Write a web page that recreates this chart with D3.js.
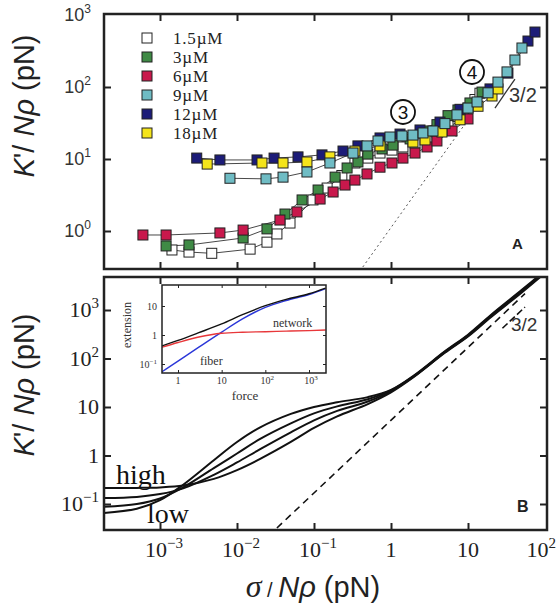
<!DOCTYPE html>
<html><head><meta charset="utf-8">
<script src="https://cdn.jsdelivr.net/npm/d3@7"></script>
<style>body{margin:0;background:#fff}svg{display:block}</style>
</head><body>
<svg id="c" width="558" height="606"></svg>
<script>
// ---------------- DATA ----------------
const legendLabels = ["1.5µM","3µM","6µM","9µM","12µM","18µM"];
// panel A series: [stress, K'] pairs
const s1_5 = [[0.00143,0.545],[0.00238,0.51],[0.0047,0.49],[0.0148,0.56],[0.0245,0.70],[0.033,0.91],[0.0488,1.29],[0.097,2.70],[0.148,3.95],[0.23,5.9],[0.34,8.8],[0.50,10.3],[0.72,12.1],[1.03,13.3],[1.43,14.7],[2.05,16.7],[2.94,19.6],[3.95,23.7],[5.5,30],[7.4,39],[10,51],[12.3,67],[14.3,82]];
const s3 = [[0.0012,0.62],[0.00238,0.64],[0.012,0.80],[0.0245,1.07],[0.042,1.72],[0.070,2.70],[0.113,3.71],[0.188,5.6],[0.269,7.5],[0.372,9.1],[0.50,11.7],[0.764,13.8],[1.06,15.6],[1.77,19.0],[2.94,24.5],[3.95,30],[5.5,40],[7.4,48],[10.6,60],[15.2,85]];
const s6 = [[0.0006,0.88],[0.0012,0.88],[0.0060,0.94],[0.012,1.03],[0.0361,1.42],[0.060,1.84],[0.120,2.78],[0.177,3.48],[0.253,4.35],[0.34,5.1],[0.488,6.2],[0.72,7.7],[1.03,8.8],[1.43,10.3],[2.05,12.1],[2.94,14.7],[3.95,17.8],[6.2,24.5],[10.0,36]];
const s9 = [[0.0081,5.4],[0.0238,5.3],[0.0396,5.6],[0.081,6.6],[0.161,8.8],[0.321,12.1],[0.488,15.2],[0.678,17.8],[0.97,20.2],[1.39,20.9],[1.93,21.5],[2.61,23],[3.51,24.5],[5.02,31],[7.19,41],[10.0,51],[13.1,62],[18.2,83],[24.5,117],[32.1,162],[40.7,237],[50.2,348]];
const s12 = [[0.0030,10.3],[0.0060,9.7],[0.0182,9.7],[0.0303,10.3],[0.062,10.7],[0.127,11.4],[0.238,12.9],[0.372,15.2],[0.72,19.6],[1.31,22.2],[2.38,25.3],[4.33,32.6],[7.87,49],[19.3,94],[33,156],[60.1,435],[74.1,580]];
const s18 = [[0.0041,8.5],[0.0211,8.8],[0.0396,8.8],[0.081,9.1],[0.161,10.7],[0.34,12.9],[0.72,15.2],[1.93,17.2],[2.77,18.4],[4.59,23.7],[7.87,35],[13.5,54],[20.5,75],[24.5,94]];
const dottedA = [[0.43,0.316],[10.0,35]];
const slopeA = [[22.4,51],[40.7,129]];

// panel B model curves
const bx = [0.00018,0.0005,0.001,0.002,0.005,0.01,0.02,0.05,0.1,0.2,0.5,1,2,5,10,20,50,100];
const curveLow  = [0.065,0.08,0.12,0.25,0.8,1.9,3.8,7.2,10,12.5,16,22.5,45,140,310,800,2600,6500];
const curveMid1 = [0.087,0.10,0.13,0.22,0.55,1.1,2.2,4.6,7.4,10.3,14.5,22,44,137,300,770,2500,6200];
const curveMid2 = [0.133,0.14,0.16,0.21,0.40,0.72,1.35,3.0,5.3,8.3,13,21,43,134,292,745,2400,6000];
const curveHigh = [0.214,0.215,0.22,0.24,0.33,0.5,0.85,1.9,3.7,6.4,11.5,20,42,131,285,720,2300,5800];
const dashedB = [[0.033,0.032],[55,2180]];
const slopeB = [[28,420],[55,1150]];

// inset
const ix = [0.43,1,3,10,30,100,300,1000,2400];
const fiberExt   = [0.054,0.126,0.38,1.26,3.6,9,15.5,25,40];
const networkExt = [0.38,0.55,0.85,1.15,1.25,1.3,1.36,1.42,1.48];
const totalExt   = [0.42,0.65,1.2,2.4,5.0,10.3,16.9,26.4,41.5];

// ticks
const xTicks = [1e-3,1e-2,1e-1,1,10,100];
const xTickLabels = [["10","−3"],["10","−2"],["10","−1"],["1",""],["10",""],["10","2"]];
const yTicksA = [1,10,100,1000];
const yTickLabelsA = [["10","0"],["10","1"],["10","2"],["10","3"]];
const yTicksB = [0.1,1,10,100,1000];
const yTickLabelsB = [["10","−1"],["1",""],["10",""],["10","2"],["10","3"]];
const iXTicks = [1,10,100,1000];
const iXTickLabels = [["1",""],["10",""],["10","2"],["10","3"]];
const iYTicks = [0.1,1,10];
const iYTickLabels = [["10","−1"],["1",""],["10",""]];

// ---------------- STYLE / LAYOUT ----------------
const SANS = "'Liberation Sans', Arial, sans-serif";
const SERIF = "'Liberation Serif', 'Times New Roman', serif";
const colors = ["#ffffff","#3f8a45","#c8184c","#6fbcc4","#1c1c78","#f4e41a"];
const PA = {l:104, r:547, t:14, b:269};
const PB = {l:104, r:547, t:277, b:530};
const PI = {l:162, r:326, t:285, b:373};

function logScale(d0,d1,r0,r1,lo,hi){
  const s = d3.scaleLog().domain([d0,d1]).range([r0,r1]);
  return d3.scaleLog().domain([s.invert(lo), s.invert(hi)]).range([lo,hi]);
}
const xA = logScale(1e-3,100,160,545,PA.l,PA.r);
const yA = logScale(1,1000,231,15,PA.b,PA.t);
const xB = logScale(1e-3,100,160,545,PB.l,PB.r);
const yB = logScale(0.1,1000,504,310,PB.b,PB.t);
const xI = logScale(1,1000,178,309,PI.l,PI.r);
const yI = logScale(0.1,10,364,306,PI.b,PI.t);

const svg = d3.select("#c");
const defs = svg.append("defs");
[["clipA",PA],["clipB",PB],["clipI",PI]].forEach(([id,p])=>{
  defs.append("clipPath").attr("id",id).append("rect")
    .attr("x",p.l).attr("y",p.t).attr("width",p.r-p.l).attr("height",p.b-p.t);
});

function ticks(g, P, x, y, xv, yv, len, sw){
  const strip = s=>s.select(".domain").remove();
  g.append("g").attr("transform",`translate(0,${P.b})`)
    .call(d3.axisBottom(x).tickValues(xv).tickSize(-len).tickFormat("")).call(strip);
  g.append("g").attr("transform",`translate(0,${P.t})`)
    .call(d3.axisTop(x).tickValues(xv).tickSize(-len).tickFormat("")).call(strip);
  g.append("g").attr("transform",`translate(${P.l},0)`)
    .call(d3.axisLeft(y).tickValues(yv).tickSize(-len).tickFormat("")).call(strip);
  g.append("g").attr("transform",`translate(${P.r},0)`)
    .call(d3.axisRight(y).tickValues(yv).tickSize(-len).tickFormat("")).call(strip);
  g.selectAll(".tick line").attr("stroke","#222").attr("stroke-width",sw);
}
function supLabel(g, x, y, parts, font, size, supSize, rise, anchor, color){
  const t = g.append("text").attr("x",x).attr("y",y).attr("text-anchor",anchor)
    .attr("font-family",font).attr("font-size",size).attr("fill",color);
  t.append("tspan").text(parts[0]);
  if (parts[1]) t.append("tspan").attr("font-size",supSize).attr("dy",-rise).text(parts[1]);
}

// ---------------- PANEL A ----------------
const gA = svg.append("g");
ticks(gA, PA, xA, yA, xTicks.filter(v=>v<100), [1,10,100], 7, 2);
const dataA = gA.append("g").attr("clip-path","url(#clipA)");
const lineA = d3.line().x(d=>xA(d[0])).y(d=>yA(d[1]));
dataA.append("path").attr("d",lineA(dottedA)).attr("fill","none")
  .attr("stroke","#555").attr("stroke-width",1).attr("stroke-dasharray","2,3");
dataA.append("path").attr("d",lineA(slopeA)).attr("fill","none")
  .attr("stroke","#333").attr("stroke-width",1.3);
const seriesA = [s1_5,s3,s6,s12,s18,s9];
const colorIdx = [0,1,2,4,5,3];
seriesA.forEach((s,i)=>{
  dataA.append("path").attr("d",lineA(s)).attr("fill","none")
    .attr("stroke","#333").attr("stroke-width",0.9);
});
seriesA.forEach((s,i)=>{
  dataA.selectAll(null).data(s).enter().append("rect")
    .attr("x",d=>xA(d[0])-5).attr("y",d=>yA(d[1])-5)
    .attr("width",10).attr("height",10)
    .attr("fill",colors[colorIdx[i]]).attr("stroke","#222").attr("stroke-width",1);
});
gA.append("rect").attr("x",PA.l).attr("y",PA.t).attr("width",PA.r-PA.l).attr("height",PA.b-PA.t)
  .attr("fill","none").attr("stroke","#222").attr("stroke-width",2.5);
yTicksA.forEach((v,i)=>supLabel(gA, 91, yA(v)+6, yTickLabelsA[i], SANS, 18, 12, 8, "end", "#333"));
// legend
legendLabels.forEach((lab,i)=>{
  const cy = 38 + i*19;
  gA.append("rect").attr("x",142).attr("y",cy-5).attr("width",10).attr("height",10)
    .attr("fill",colors[i]).attr("stroke","#222").attr("stroke-width",1);
  gA.append("text").attr("x",173).attr("y",cy+6).attr("font-family",SERIF)
    .attr("font-size",17).attr("letter-spacing",0.8).attr("fill","#222").text(lab);
});
// annotations
[[403,112,"3"],[472,72,"4"]].forEach(([cx,cy,t])=>{
  gA.append("circle").attr("cx",cx).attr("cy",cy).attr("r",12)
    .attr("fill","#fff").attr("stroke","#111").attr("stroke-width",1.8);
  gA.append("text").attr("x",cx).attr("y",cy+7).attr("text-anchor","middle")
    .attr("font-family",SANS).attr("font-size",19).attr("fill","#111").text(t);
});
gA.append("text").attr("x",509).attr("y",102).attr("font-family",SANS).attr("font-size",20)
  .attr("fill","#333").text("3/2");
gA.append("text").attr("x",512).attr("y",249).attr("font-family",SANS).attr("font-size",15)
  .attr("font-weight","bold").attr("fill","#222").text("A");

// ---------------- PANEL B ----------------
const gB = svg.append("g");
ticks(gB, PB, xB, yB, xTicks.filter(v=>v<100), [0.1,1,10,100,1000], 7, 2);
const dataB = gB.append("g").attr("clip-path","url(#clipB)");
const lineB = d3.line().x(d=>xB(d[0])).y(d=>yB(d[1]));
dataB.append("path").attr("d",lineB(dashedB)).attr("fill","none")
  .attr("stroke","#111").attr("stroke-width",1.6).attr("stroke-dasharray","7,5");
dataB.append("path").attr("d",lineB(slopeB)).attr("fill","none")
  .attr("stroke","#111").attr("stroke-width",1.6).attr("stroke-dasharray","7,3");
const curveLine = d3.line().x(d=>xB(d[0])).y(d=>yB(d[1])).curve(d3.curveCatmullRom.alpha(0.5));
[curveLow,curveMid1,curveMid2,curveHigh].forEach(c=>{
  dataB.append("path").attr("d",curveLine(bx.map((x,i)=>[x,c[i]]))).attr("fill","none")
    .attr("stroke","#111").attr("stroke-width",2);
});
gB.append("rect").attr("x",PB.l).attr("y",PB.t).attr("width",PB.r-PB.l).attr("height",PB.b-PB.t)
  .attr("fill","none").attr("stroke","#222").attr("stroke-width",2.5);
yTicksB.forEach((v,i)=>supLabel(gB, 99, yB(v)+7, yTickLabelsB[i], SERIF, 22, 15, 9, "end", "#222"));
xTicks.forEach((v,i)=>{
  const p = xTickLabels[i];
  if (v === 100) supLabel(gB, 556, 557, p, SERIF, 22, 15, 9, "end", "#222");
  else supLabel(gB, xB(v)+(p[1]?4:0), 557, p, SERIF, 22, 15, 9, "middle", "#222");
});
gB.append("text").attr("x",116).attr("y",484).attr("font-family",SERIF).attr("font-size",28)
  .attr("fill","#111").text("high");
gB.append("text").attr("x",147).attr("y",523).attr("font-family",SERIF).attr("font-size",28)
  .attr("fill","#111").text("low");
gB.append("text").attr("x",511).attr("y",331).attr("font-family",SANS).attr("font-size",19)
  .attr("fill","#333").text("3/2");
gB.append("text").attr("x",517).attr("y",512).attr("font-family",SANS).attr("font-size",16)
  .attr("font-weight","bold").attr("fill","#222").text("B");

// ---------------- INSET ----------------
const gI = svg.append("g");
gI.append("rect").attr("x",PI.l).attr("y",PI.t).attr("width",PI.r-PI.l).attr("height",PI.b-PI.t)
  .attr("fill","#fff");
ticks(gI, PI, xI, yI, iXTicks, iYTicks, 3, 1);
const dataI = gI.append("g").attr("clip-path","url(#clipI)");
const lineI = d3.line().x(d=>xI(d[0])).y(d=>yI(d[1])).curve(d3.curveMonotoneX);
[[fiberExt,"#2a36d8"],[networkExt,"#e8373a"],[totalExt,"#111"]].forEach(([arr,col])=>{
  dataI.append("path").attr("d",lineI(ix.map((x,i)=>[x,arr[i]]))).attr("fill","none")
    .attr("stroke",col).attr("stroke-width",1.4);
});
gI.append("rect").attr("x",PI.l).attr("y",PI.t).attr("width",PI.r-PI.l).attr("height",PI.b-PI.t)
  .attr("fill","none").attr("stroke","#222").attr("stroke-width",1.5);
iYTicks.forEach((v,i)=>supLabel(gI, 157, yI(v)+3.5, iYTickLabels[i], SERIF, 10, 7, 4, "end", "#333"));
iXTicks.forEach((v,i)=>{
  const p = iXTickLabels[i];
  supLabel(gI, xI(v)+(p[1]?2:0), 384, p, SERIF, 10, 7, 4, "middle", "#333");
});
gI.append("text").attr("x",245).attr("y",400).attr("text-anchor","middle").attr("font-family",SERIF)
  .attr("font-size",13).attr("fill","#333").text("force");
gI.append("text").attr("transform","translate(131,325) rotate(-90)").attr("text-anchor","middle")
  .attr("font-family",SERIF).attr("font-size",12).attr("fill","#333").text("extension");
gI.append("text").attr("x",200).attr("y",365).attr("font-family",SERIF)
  .attr("font-size",12).attr("fill","#333").text("fiber");
gI.append("text").attr("x",273).attr("y",327).attr("font-family",SERIF)
  .attr("font-size",12).attr("fill","#333").text("network");

// ---------------- AXIS TITLES ----------------
function yTitle(cy){
  const t = svg.append("text").attr("transform",`translate(34,${cy}) rotate(-90)`)
    .attr("text-anchor","middle").attr("font-family",SANS).attr("font-size",29).attr("fill","#222");
  t.append("tspan").attr("font-style","italic").text("K");
  t.append("tspan").text("'/ ");
  t.append("tspan").attr("font-style","italic").text("N");
  t.append("tspan").attr("font-style","italic").text("ρ");
  t.append("tspan").text(" (pN)");
}
yTitle(106);
yTitle(385);
const xt = svg.append("text").attr("x",313).attr("y",597).attr("text-anchor","middle")
  .attr("font-family",SANS).attr("font-size",29).attr("fill","#222");
xt.append("tspan").attr("font-family",SERIF).attr("font-style","italic").attr("font-size",32).text("σ");
xt.append("tspan").attr("font-size",20).text(" / ");
xt.append("tspan").attr("font-style","italic").text("N");
xt.append("tspan").attr("font-style","italic").text("ρ");
xt.append("tspan").text(" (pN)");
</script>
</body></html>
